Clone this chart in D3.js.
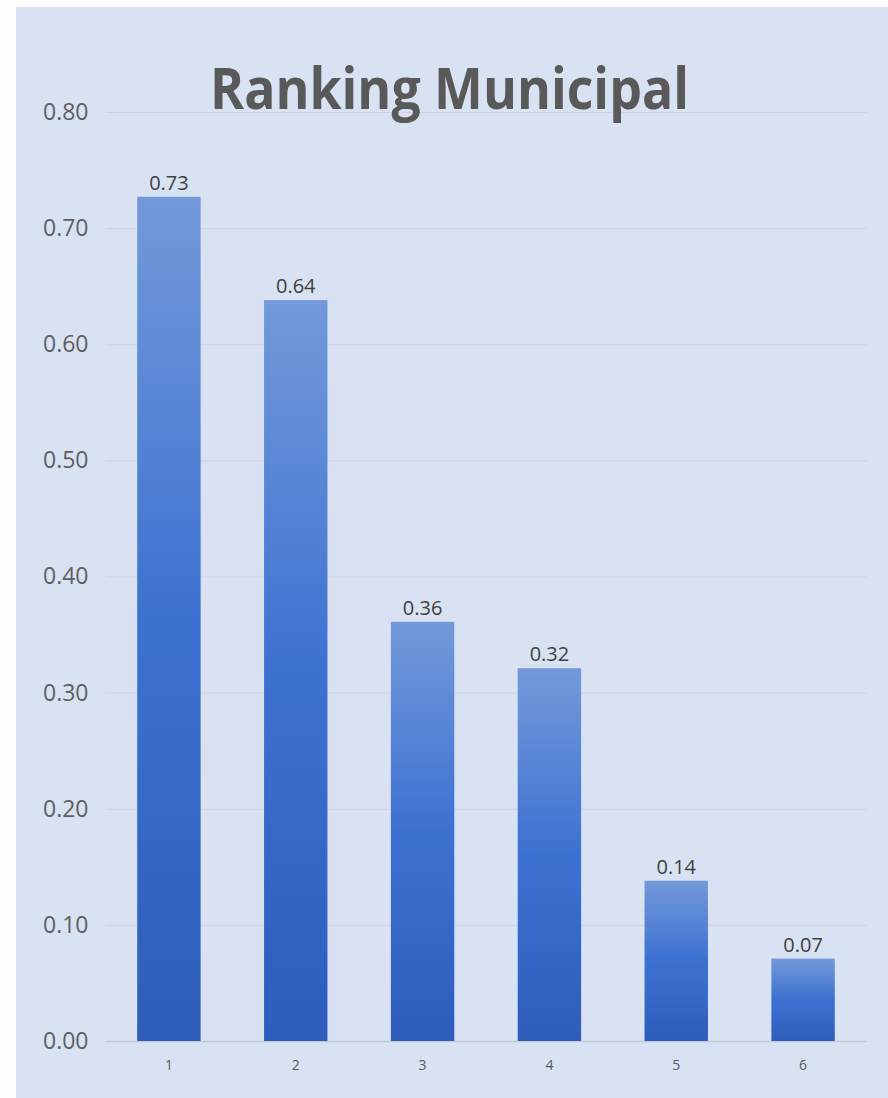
<!DOCTYPE html>
<html>
<head>
<meta charset="utf-8">
<script src="https://cdn.jsdelivr.net/npm/d3@7"></script>
<style>
  body { margin: 0; background: #fdfdfb; }
  text { font-family: "Open Sans", sans-serif; }
</style>
</head>
<body>
<div id="chart"></div>
<script>
// Ranking values per municipality
const categories = ["1", "2", "3", "4", "5", "6"];
const values = [0.727, 0.638, 0.361, 0.321, 0.138, 0.071];
const yTicks = [0, 0.1, 0.2, 0.3, 0.4, 0.5, 0.6, 0.7, 0.8];
const title = "Ranking Municipal";

const width = 888;
const height = 1098;
const plot = { left: 105.5, right: 866.5, top: 112, bottom: 1041 };

const svg = d3.select("#chart")
  .append("svg")
  .attr("width", width)
  .attr("height", height);

// Gradient for the bars
const grad = svg.append("defs").append("linearGradient")
  .attr("id", "barGrad")
  .attr("x1", 0).attr("y1", 0).attr("x2", 0).attr("y2", 1);
grad.append("stop").attr("offset", "0%").attr("stop-color", "#7399da");
grad.append("stop").attr("offset", "50%").attr("stop-color", "#3d71d1");
grad.append("stop").attr("offset", "100%").attr("stop-color", "#2e5dbb");

// Panel background
svg.append("rect")
  .attr("x", 16)
  .attr("y", 7)
  .attr("width", width - 16)
  .attr("height", height - 7)
  .attr("fill", "#d9e2f3");

const x = d3.scaleBand()
  .domain(categories)
  .range([plot.left, plot.right])
  .paddingInner(0.5)
  .paddingOuter(0.25);

const y = d3.scaleLinear()
  .domain([0, 0.8])
  .range([plot.bottom, plot.top]);

// Gridlines
svg.append("g")
  .selectAll("line")
  .data(yTicks)
  .enter()
  .append("line")
  .attr("x1", plot.left)
  .attr("x2", plot.right)
  .attr("y1", d => y(d) + 0.5)
  .attr("y2", d => y(d) + 0.5)
  .attr("stroke", d => d === 0 ? "#c3c9d3" : "#ccd3df")
  .attr("stroke-width", d => d === 0 ? 1.5 : 1);

// Y axis labels
const yAxis = svg.append("g")
  .attr("transform", `translate(${plot.left - 14}, 0)`)
  .call(d3.axisLeft(y).tickValues(yTicks).tickFormat(d3.format(".2f")).tickSize(0));
yAxis.select(".domain").remove();
yAxis.selectAll("text")
  .attr("font-family", "Open Sans, sans-serif")
  .attr("font-size", 23)
  .attr("fill", "#5f5f5f");

// X axis labels
const xAxis = svg.append("g")
  .attr("transform", `translate(0, ${plot.bottom})`)
  .call(d3.axisBottom(x).tickSize(0));
xAxis.select(".domain").remove();
xAxis.selectAll("text")
  .attr("font-family", "Open Sans, sans-serif")
  .attr("font-size", 14)
  .attr("fill", "#595959")
  .attr("dy", "1.85em");

// Bars
svg.append("g")
  .selectAll("rect")
  .data(values)
  .enter()
  .append("rect")
  .attr("x", (d, i) => x(categories[i]))
  .attr("y", d => y(d))
  .attr("width", x.bandwidth())
  .attr("height", d => y(0) - y(d))
  .attr("fill", "url(#barGrad)");

// Data labels
svg.append("g")
  .selectAll("text")
  .data(values)
  .enter()
  .append("text")
  .attr("x", (d, i) => x(categories[i]) + x.bandwidth() / 2)
  .attr("y", d => y(d) - 7)
  .attr("text-anchor", "middle")
  .attr("font-size", 20)
  .attr("fill", "#404040")
  .text(d => d3.format(".2f")(d));

// Title
svg.append("text")
  .attr("x", 449.5)
  .attr("y", 109)
  .attr("text-anchor", "middle")
  .attr("font-size", 58)
  .attr("font-weight", "bold")
  .attr("fill", "#595959")
  .attr("textLength", 479)
  .attr("lengthAdjust", "spacingAndGlyphs")
  .text(title);
</script>
</body>
</html>
